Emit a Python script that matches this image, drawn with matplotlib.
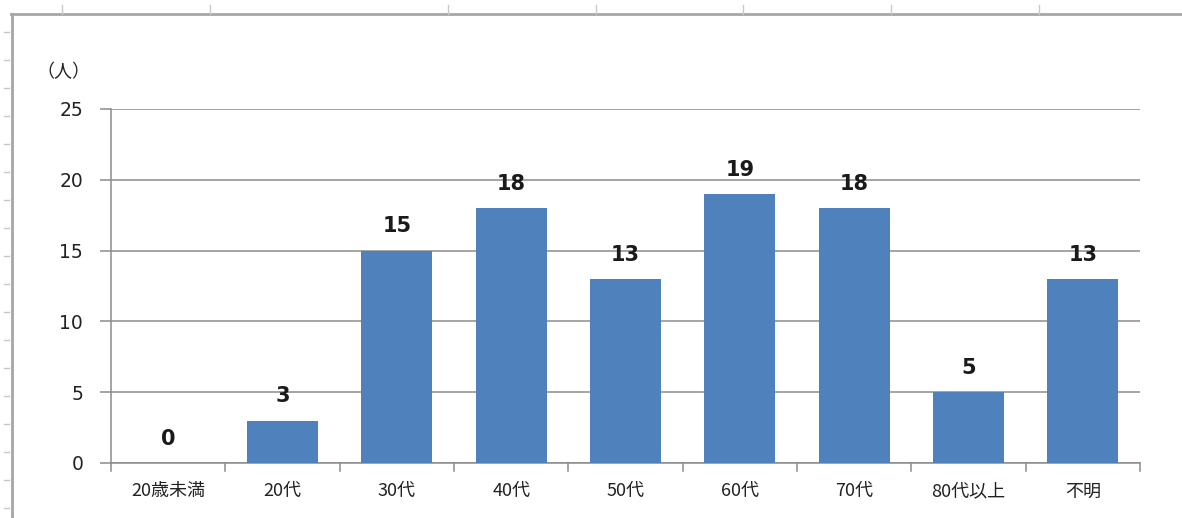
import matplotlib.pyplot as plt
from matplotlib.lines import Line2D

plt.rcParams['font.family'] = ['Noto Sans CJK JP', 'DejaVu Sans']

categories = ['20歳未満', '20代', '30代', '40代', '50代', '60代', '70代', '80代以上', '不明']
counts = [0, 3, 15, 18, 13, 19, 18, 5, 13]
yticks = [0, 5, 10, 15, 20, 25]

W, H = 1182, 518
fig = plt.figure(figsize=(W / 100, H / 100), dpi=100, facecolor='white')

# spreadsheet frame around the chart
def px(x, y):
    return x / W, 1 - y / H

frame_col = '#a6a6a6'
fig.add_artist(Line2D([px(11, 0)[0], 1], [px(0, 14)[1]] * 2, color=frame_col, lw=2))
fig.add_artist(Line2D([px(12, 0)[0]] * 2, [px(0, 14)[1], 0], color=frame_col, lw=2))
for cx in [62, 210, 448, 596, 743, 891, 1039]:
    fig.add_artist(Line2D([px(cx, 0)[0]] * 2, [px(0, 5)[1], px(0, 14)[1]], color='#c8c8c8', lw=1))
for ry in range(32, 518, 28):
    fig.add_artist(Line2D([px(4, 0)[0], px(9, 0)[0]], [px(0, ry)[1]] * 2, color='#c8c8c8', lw=1))

ax = fig.add_axes([111 / W, 55 / H, (1140 - 111) / W, (463 - 109) / H])
x = range(len(categories))
ax.bar(x, counts, width=0.62, color='#4f81bd', zorder=3)

for xi, v in zip(x, counts):
    ax.text(xi, v + 1.0, str(v), ha='center', va='bottom', fontsize=15,
            fontweight='bold', family='DejaVu Sans', color='#1a1a1a', zorder=4)

ax.set_xlim(-0.5, len(categories) - 0.5)
ax.set_ylim(0, 25)
ax.set_yticks(yticks)
ax.set_yticklabels([str(t) for t in yticks], fontsize=13.5, family='DejaVu Sans',
                   color='#222222')
ax.yaxis.grid(True, color='#8c8c8c', lw=1.1, zorder=0)
ax.set_xticks(list(x))
ax.set_xticklabels(categories, fontsize=13, color='#222222')
ax.tick_params(axis='x', length=0, pad=14)
ax.tick_params(axis='y', length=8, color='#8c8c8c', width=1.1, pad=12)
for b in [i - 0.5 for i in range(len(categories) + 1)]:
    ax.plot([b, b], [0, -0.6], color='#8c8c8c', lw=1.1, clip_on=False)

for s in ['top', 'right']:
    ax.spines[s].set_visible(False)
for s in ['left', 'bottom']:
    ax.spines[s].set_color('#8c8c8c')
    ax.spines[s].set_linewidth(1.1)

fig.text(36 / W, 1 - 72 / H, '（人）', fontsize=13, va='center', ha='left',
         color='#222222')

fig.savefig('out.png', dpi=100, facecolor='white')
